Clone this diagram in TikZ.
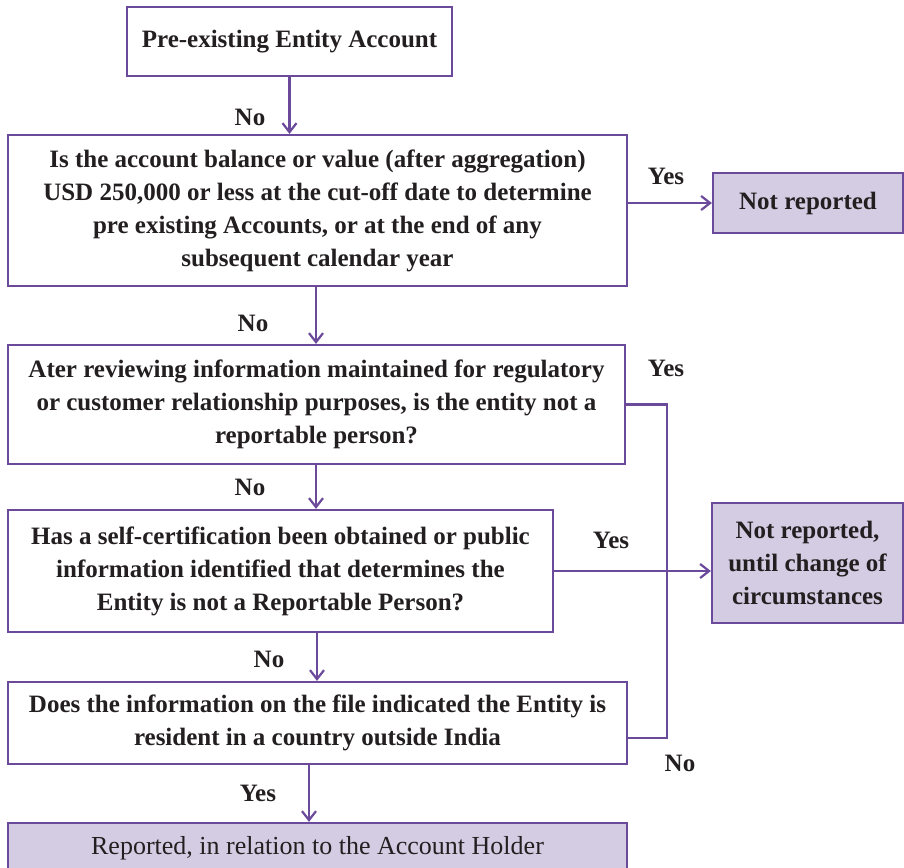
\documentclass[tikz,border=0pt]{standalone}
\usepackage{fontspec}
\setmainfont{Liberation Serif}
\usetikzlibrary{arrows.meta}
\definecolor{pline}{HTML}{6B4A9B}
\definecolor{pfill}{HTML}{D4CCE3}
\definecolor{ptext}{HTML}{231F20}
\tikzset{
 box/.style={draw=pline, line width=2.2pt, fill=white, align=center, inner sep=0pt, text=ptext, font=\fontsize{25}{33}\selectfont\bfseries},
 outbox/.style={box, fill=pfill},
 conn/.style={draw=pline, line width=2.2pt, -{Straight Barb[length=9pt,width=14pt]}},
 plain/.style={draw=pline, line width=2.2pt},
 lbl/.style={font=\fontsize{25}{26}\selectfont\bfseries, inner sep=0pt, text=ptext}
}
\begin{document}
\begin{tikzpicture}[x=1pt,y=-1pt]
\useasboundingbox (0,0) rectangle (904,867);
\fill[white] (0,0) rectangle (904,867);
\node[box, minimum width=325pt, minimum height=69pt] (b1) at (289.5,41.5) {Pre-existing Entity Account};
\node[box, minimum width=619pt, minimum height=151pt] (b2) at (317.5,210.5) {Is the account balance or value (after aggregation)\\USD 250,000 or less at the cut-off date to determine\\pre existing Accounts, or at the end of any\\subsequent calendar year};
\node[outbox, minimum width=190pt, minimum height=60pt] (nr) at (808,203) {Not reported};
\node[box, minimum width=617pt, minimum height=119pt] (b3) at (316.5,404.5) {Ater reviewing information maintained for regulatory\\or customer relationship purposes, is the entity not a\\reportable person?};
\node[box, minimum width=545pt, minimum height=122pt] (b4) at (280.5,571) {Has a self-certification been obtained or public\\information identified that determines the\\Entity is not a Reportable Person?};
\node[outbox, minimum width=191pt, minimum height=120pt] (nrc) at (807.5,563) {Not reported,\\until change of\\circumstances};
\node[box, minimum width=619pt, minimum height=82pt] (b5) at (317.5,723) {Does the information on the file indicated the Entity is\\resident in a country outside India};
\node[outbox, font=\fontsize{26}{26}\selectfont, minimum width=619pt, minimum height=50pt] (rep) at (317.5,848) {Reported, in relation to the Account Holder};

\coordinate (x316) at (316,0);
\coordinate (x317) at (317,0);
\coordinate (x309) at (309,0);
\coordinate (rx) at (667,0);
\coordinate (j5) at (627,738);

\draw[conn] (b1.south) -- (b2.north -| b1.south);
\draw[conn] (b2.east |- nr.west) -- (nr.west);
\draw[conn] (b2.south -| x316) -- (b3.north -| x316);
\draw[conn] (b3.south -| x316) -- (b4.north -| x316);
\draw[conn] (b4.east) -- (b4.east -| nrc.west);
\draw[conn] (b4.south -| x317) -- (b5.north -| x317);
\draw[conn] (b5.south -| x309) -- (rep.north -| x309);
\draw[plain] (b3.east) -- (b3.east -| rx) -- (rx |- j5) -- (j5);

\node[lbl] (l1) at (250,117) {No};
\node[lbl] (l2) at (666,176) {Yes};
\node[lbl] (l3) at (253,323) {No};
\node[lbl] (l4) at (666,368) {Yes};
\node[lbl] (l5) at (250,487) {No};
\node[lbl] (l6) at (611,540) {Yes};
\node[lbl] (l7) at (269,659) {No};
\node[lbl] (l8) at (680,763) {No};
\node[lbl] (l9) at (258,793) {Yes};
\end{tikzpicture}
\end{document}
